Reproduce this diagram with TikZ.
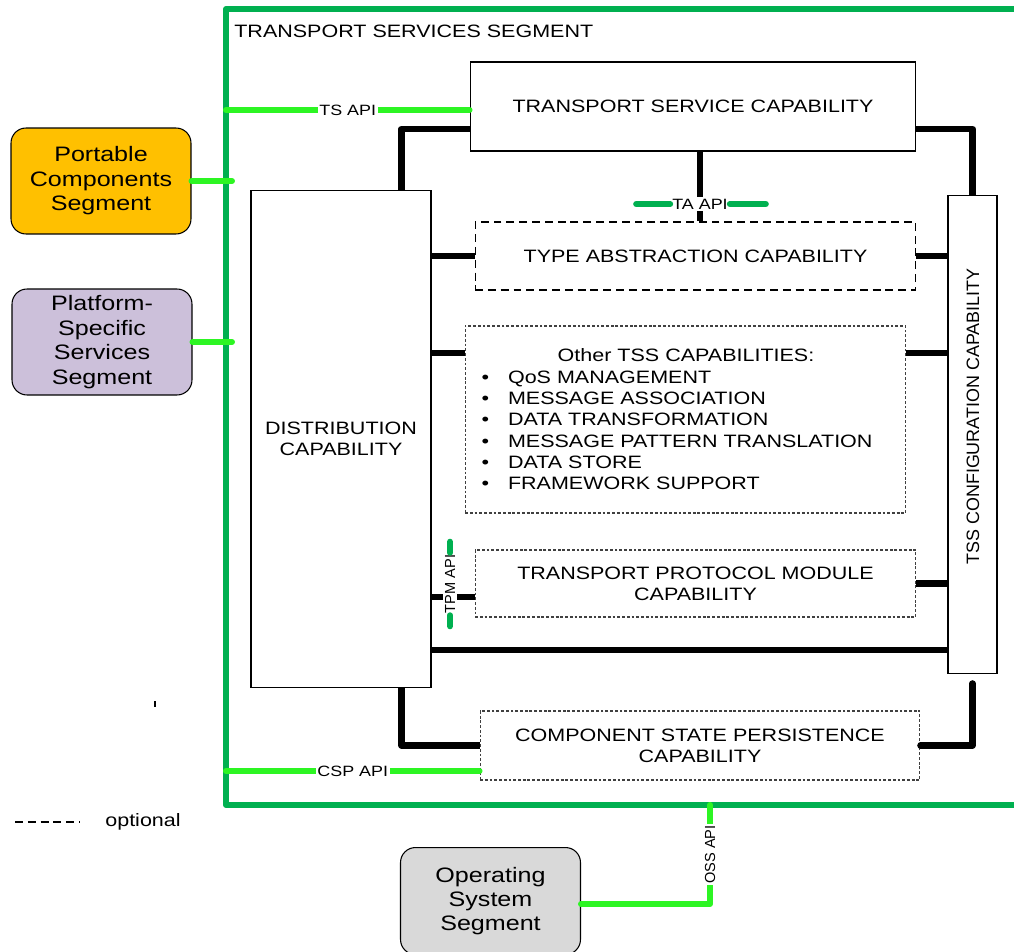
\documentclass[tikz,border=0pt]{standalone}
\usepackage{fontspec}
\setmainfont{Liberation Sans}[FakeStretch=1.2]
\newfontfamily\rotfont{Liberation Sans}

\definecolor{segframe}{RGB}{0,176,80}
\definecolor{apigreen}{RGB}{45,245,35}
\definecolor{pcsfill}{RGB}{255,192,0}
\definecolor{pssfill}{RGB}{204,192,218}
\definecolor{ossfill}{RGB}{217,217,217}

\newcommand{\boxfont}{\fontsize{10.2pt}{12.1pt}\selectfont}
\newcommand{\segfont}{\fontsize{11.9pt}{13.9pt}\selectfont}
\newcommand{\apifont}{\fontsize{8.5pt}{10pt}\selectfont}
\newcommand{\rotboxfont}{\rotfont\fontsize{10.2pt}{12.1pt}\selectfont}
\newcommand{\rotapifont}{\rotfont\fontsize{8.3pt}{10pt}\selectfont}

\begin{document}
\begin{tikzpicture}[
    x=0.02cm, y=-0.02cm,
    capbox/.style={rectangle, draw=black, line width=0.6pt, fill=white, font=\boxfont, align=center, inner sep=0pt},
    optbox/.style={capbox, dash pattern=on 4.5pt off 2.8pt},
    optfine/.style={capbox, draw=black!75, dash pattern=on 1.6pt off 1.1pt},
    segbox/.style={rectangle, rounded corners=0.3cm, draw=black, line width=0.6pt, font=\segfont, align=center, inner sep=1pt, minimum width=3.6cm, minimum height=2.12cm},
    segline/.style={line width=0.12cm, segframe, line join=round},
    link/.style={line width=0.13cm, line join=round},
    apilink/.style={line width=0.12cm, apigreen, line cap=round, line join=round},
    apilinkdk/.style={apilink, segframe},
    apilabel/.style={fill=white, text=black, inner sep=1pt, font=\apifont},
    rotlabel/.style={fill=white, text=black, inner sep=1pt, font=\rotapifont, rotate=90}
]
\useasboundingbox (0,0) rectangle (1014,952);

% Segment frame
\coordinate (segnw) at (226,9);
\coordinate (segsw) at (226,805);
\coordinate (ossport) at (710,805);
\draw[segline] (1040,9) -- (segnw) -- (segsw) -- (1040,805);
\node[anchor=west, inner sep=0pt, font=\boxfont] (segtitle) at (234,31) {TRANSPORT SERVICES SEGMENT};

% Capabilities
\node[capbox, minimum width=8.92cm, minimum height=1.78cm] (ts) at (693,106.5) {TRANSPORT SERVICE CAPABILITY};
\node[capbox, minimum width=3.6cm, minimum height=9.96cm] (dist) at (341,439) {DISTRIBUTION\\CAPABILITY};
\node[capbox, minimum width=0.98cm, minimum height=9.58cm] (tssconf) at (972.5,434.5) {};
\node[rotate=90, inner sep=0pt, font=\rotboxfont] (tsslabel) at (973,416.5) {TSS CONFIGURATION CAPABILITY};
\node[optbox, minimum width=8.82cm, minimum height=1.36cm] (ta) at (695.5,256) {TYPE ABSTRACTION CAPABILITY};
\node[optfine, minimum width=8.82cm, minimum height=3.74cm] (other) at (685.5,419.5) {};
\node[inner sep=0pt, font=\boxfont] (otherlist) at (677,421.5) {%
  \begin{tabular}{@{}c@{\hspace{0.38cm}}l@{}}
    \multicolumn{2}{c}{\hspace{0.36cm}Other TSS CAPABILITIES:}\\
    \textbullet & QoS MANAGEMENT\\
    \textbullet & MESSAGE ASSOCIATION\\
    \textbullet & DATA TRANSFORMATION\\
    \textbullet & MESSAGE PATTERN TRANSLATION\\
    \textbullet & DATA STORE\\
    \textbullet & FRAMEWORK SUPPORT
  \end{tabular}};
\node[optfine, minimum width=8.82cm, minimum height=1.34cm] (tpm) at (695.5,583.5) {TRANSPORT PROTOCOL MODULE\\CAPABILITY};
\node[optfine, minimum width=8.8cm, minimum height=1.38cm] (csp) at (700,745.5) {COMPONENT STATE PERSISTENCE\\CAPABILITY};

% Other segments
\node[segbox, fill=pcsfill] (pcs) at (101,181) {Portable\\Components\\Segment};
\node[segbox, fill=pssfill] (pss) at (102,342) {Platform-\\Specific\\Services\\Segment};
\node[segbox, fill=ossfill, minimum height=2.14cm, anchor=north] (oss) at (490.5,847) {Operating\\System\\Segment};

% Internal links
\draw[link] ([xshift=-0.6cm]dist.north east) |- ([yshift=-0.45cm]ts.west);
\draw[link] ([yshift=-0.45cm]ts.east) -| (tssconf.north);
\draw[link] (ts.south -| 700,0) -- (ta.north -| 700,0);
\draw[link] (ta.west -| dist.east) -- (ta.west);
\draw[link] (ta.east) -- (ta.east -| tssconf.west);
\draw[link] ([yshift=1.33cm]other.west -| dist.east) -- ([yshift=1.33cm]other.west);
\draw[link] ([yshift=1.33cm]other.east) -- ([yshift=1.33cm]other.east -| tssconf.west);
\draw[link] ([yshift=-0.27cm]tpm.west -| dist.east) -- ([yshift=-0.27cm]tpm.west);
\draw[link] (tpm.east) -- (tpm.east -| tssconf.west);
\draw[link] ([yshift=-4.22cm]dist.east) -- ([yshift=-4.22cm]dist.east -| tssconf.west);
\draw[link] ([xshift=-0.6cm]dist.south east) |- (csp.west);
\draw[link, line cap=round] (csp.east) -| ([yshift=-0.18cm]tssconf.south);

% APIs
\node[apilabel] (taapi) at (700,204) {TA API};
\draw[apilinkdk] (taapi.west) -- ++(-34,0);
\draw[apilinkdk] (taapi.east) -- ++(36,0);
\node[rotlabel] (tpmapi) at (450,584) {TPM API};
\draw[apilinkdk] (tpmapi.east) -- ++(0,-11);
\draw[apilinkdk] (tpmapi.west) -- ++(0,11);
\draw[apilink] ([yshift=-0.07cm]ts.west -| segnw) -- ([yshift=-0.07cm]ts.west)
  node[apilabel, pos=0.5] (tsapi) {TS API};
\draw[apilink] ([yshift=-0.51cm]csp.west -| segnw) -- ([yshift=-0.51cm]csp.west)
  node[apilabel, pos=0.5] (cspapi) {CSP API};
\draw[apilink] (pcs.east) -- ([xshift=0.12cm]pcs.east -| segnw);
\draw[apilink] (pss.east) -- ([xshift=0.12cm]pss.east -| segnw);
\draw[apilink] ([yshift=-0.06cm]oss.east) -| (ossport)
  node[rotlabel, pos=0.75] (ossapi) {OSS API};

% Legend
\draw[line width=0.6pt] (155,701) -- (155,707);
\draw[line width=0.6pt, dash pattern=on 4.5pt off 2.8pt] (15,822) -- (80,822);
\node[anchor=west, inner sep=0pt, font=\boxfont] (legend) at (105,822) {optional};

\end{tikzpicture}
\end{document}
